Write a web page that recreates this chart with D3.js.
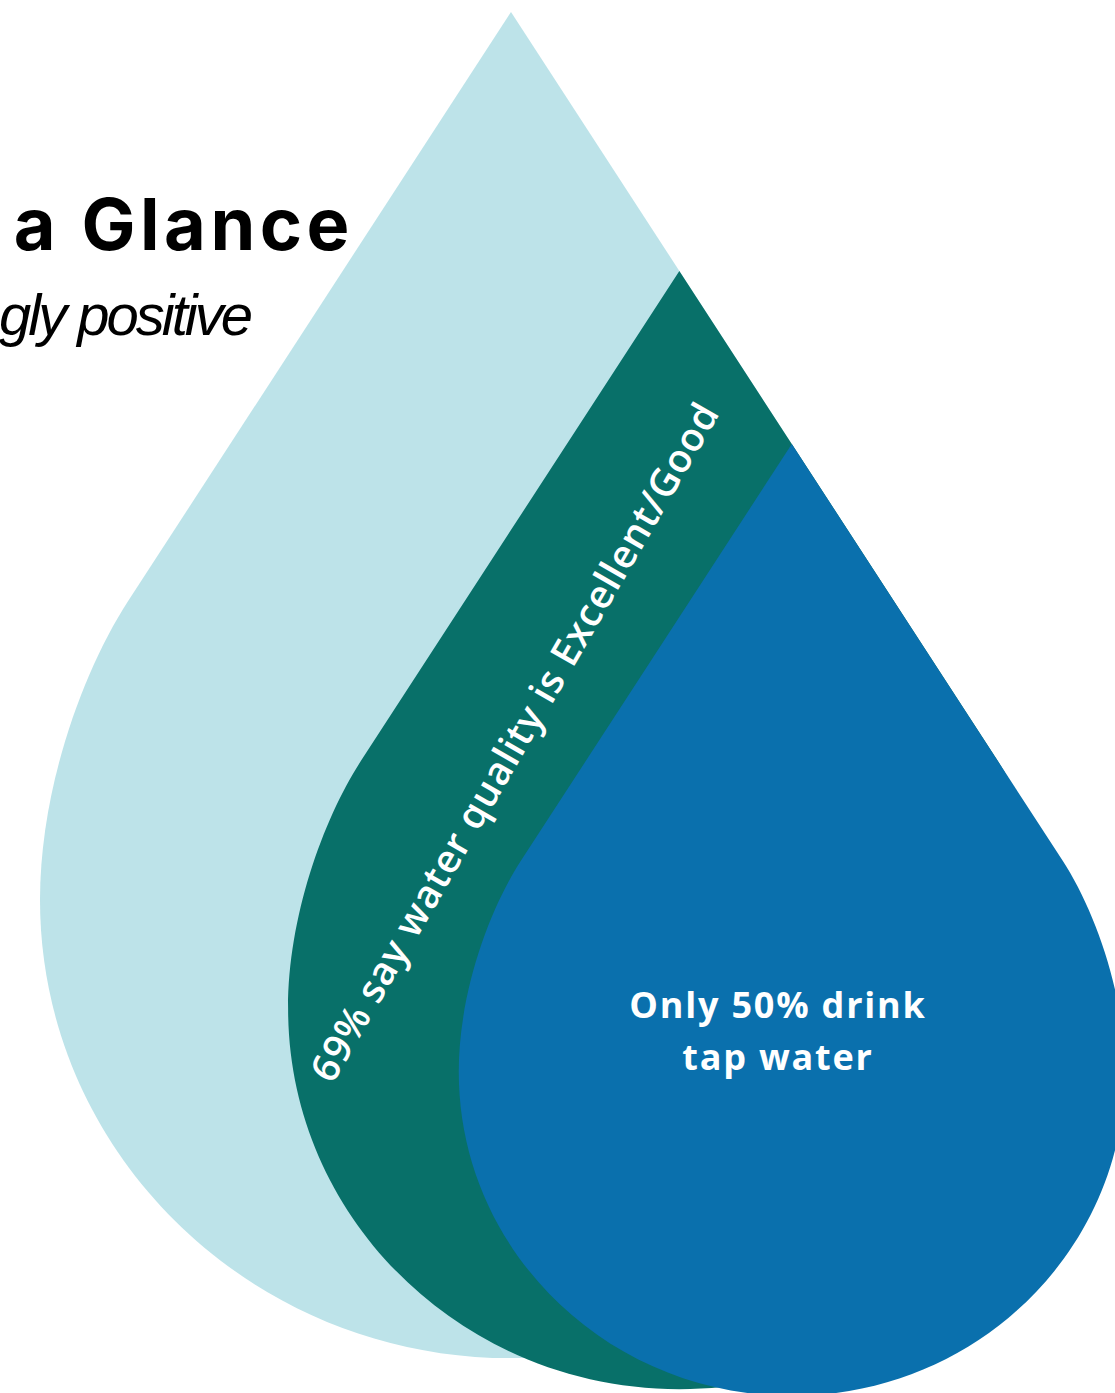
<!DOCTYPE html>
<html>
<head>
<meta charset="utf-8">
<script src="https://cdn.jsdelivr.net/npm/d3@7"></script>
<style>
  html, body { margin: 0; padding: 0; background: #ffffff; overflow: hidden; }
  svg { display: block; }
</style>
</head>
<body>
<svg id="chart" width="1115" height="1393"></svg>
<script>
// ---- data ----
const categories = ["All respondents", "Rate water quality Excellent/Good", "Drink tap water"];
const shares = [100, 69, 50];
const dropLabels = ["", "69% say water quality is Excellent/Good", "Only 50% drink|tap water"];
const titleText = "a Glance";
const subtitleText = "gly positive";

// ---- style / layout ----
const palette = ["#bde3e9", "#087069", "#0a70ad"];
const flankDrop = [0, 259, 432];   // how far down the big drop's right flank each tip sits

const W = 1115, H = 1393;
const svg = d3.select("#chart");

// size of each drop is proportional to its share (area ~ share)
const rScale = d3.scaleSqrt().domain([0, 100]).range([0, 471]);

// normalized teardrop (tip at origin, half-width 1)
const EDGE = 0.65;      // dx/dy of straight flank
const LINE_END = 1.25;  // where straight flank ends
const WIDE = 1.885;     // y of widest point
const BOTTOM = 2.858;   // y of bottom
function dropPath(R) {
  const p = d3.path();
  const s = v => v * R;
  const lx = EDGE * LINE_END;
  p.moveTo(0, 0);
  p.lineTo(s(-lx), s(LINE_END));
  p.bezierCurveTo(s(-lx - EDGE * 0.15), s(LINE_END + 0.15), s(-1), s(1.65), s(-1), s(WIDE));
  const ry = BOTTOM - WIDE;
  p.bezierCurveTo(s(-1), s(WIDE + 0.552 * ry), s(-0.552), s(BOTTOM), 0, s(BOTTOM));
  p.bezierCurveTo(s(0.552), s(BOTTOM), s(1), s(WIDE + 0.552 * ry), s(1), s(WIDE));
  p.bezierCurveTo(s(1), s(1.65), s(lx + EDGE * 0.15), s(LINE_END + 0.15), s(lx), s(LINE_END));
  p.closePath();
  return p.toString();
}

const tip0 = { x: 511, y: 12 };
const drops = shares.map((v, i) => {
  const R = rScale(v);
  const ty = tip0.y + flankDrop[i];
  const tx = tip0.x + EDGE * (ty - tip0.y);
  return { cat: categories[i], value: v, R, tx, ty, color: palette[i], label: dropLabels[i] };
});

svg.append("g").selectAll("path.drop")
  .data(drops)
  .join("path")
  .attr("class", "drop")
  .attr("transform", d => `translate(${d.tx},${d.ty})`)
  .attr("d", d => dropPath(d.R))
  .attr("fill", d => d.color);

// title & subtitle (cropped at left in the original)
svg.append("text")
  .attr("x", 354).attr("y", 250)
  .attr("text-anchor", "end")
  .style("font-family", "Inter, 'Liberation Sans', sans-serif")
  .style("font-weight", 700)
  .style("font-size", "72px")
  .style("letter-spacing", "4.5px")
  .attr("fill", "#000")
  .text(titleText);

svg.append("text")
  .attr("x", 250).attr("y", 335)
  .attr("text-anchor", "end")
  .style("font-family", "'Liberation Sans', Arial, sans-serif")
  .style("font-style", "italic")
  .style("font-size", "58px")
  .style("letter-spacing", "-3px")
  .attr("fill", "#000")
  .text(subtitleText);

// rotated label on the teal drop
const teal = drops[1];
svg.append("text")
  .attr("transform", `translate(${513},${741}) rotate(-60)`)
  .attr("text-anchor", "middle")
  .attr("dominant-baseline", "central")
  .style("font-family", "'Open Sans', sans-serif")
  .style("font-weight", 600)
  .style("font-size", "39px")
  .style("letter-spacing", "0.8px")
  .attr("fill", "#ffffff")
  .text(teal.label);

// label on the blue drop
const blue = drops[2];
const lines = blue.label.split("|");
const bt = svg.append("text")
  .attr("text-anchor", "middle")
  .style("font-family", "'Open Sans', sans-serif")
  .style("font-weight", 700)
  .style("font-size", "36px")
  .style("letter-spacing", "1.8px")
  .attr("fill", "#ffffff");
lines.forEach((ln, i) => {
  bt.append("tspan").attr("x", 778).attr("y", 1018 + i * 52).text(ln);
});
</script>
</body>
</html>
